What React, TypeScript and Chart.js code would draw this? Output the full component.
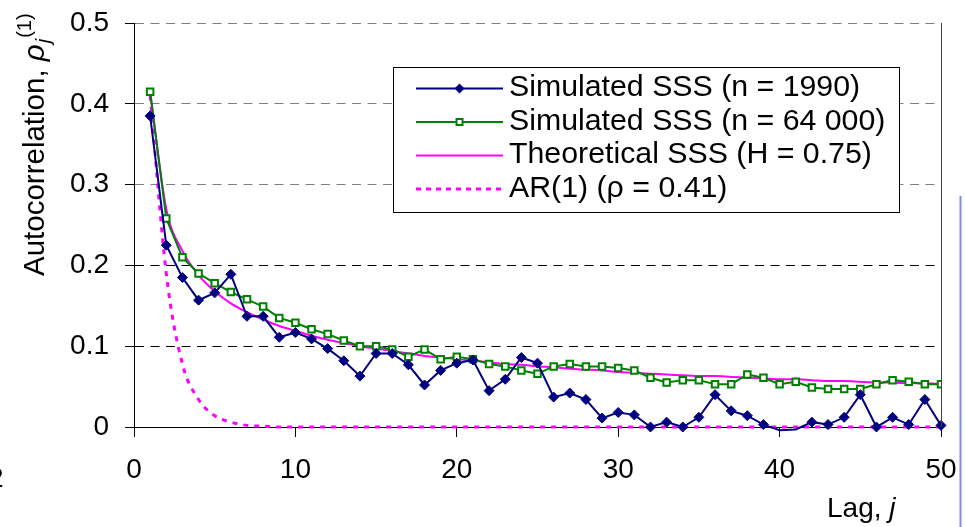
import React, { useEffect, useRef } from "react";
import { Chart, registerables } from "chart.js";

Chart.register(...registerables);

// ---------------- data ----------------
const lags = [
  1, 2, 3, 4, 5, 6, 7, 8, 9, 10, 11, 12, 13, 14, 15, 16, 17, 18, 19, 20, 21, 22, 23, 24, 25,
  26, 27, 28, 29, 30, 31, 32, 33, 34, 35, 36, 37, 38, 39, 40, 41, 42, 43, 44, 45, 46, 47, 48, 49, 50,
];

const simSmall = [
  0.385, 0.225, 0.185, 0.157, 0.166, 0.189, 0.137, 0.137, 0.111, 0.117,
  0.109, 0.097, 0.082, 0.063, 0.091, 0.091, 0.077, 0.052, 0.07, 0.079,
  0.083, 0.045, 0.059, 0.086, 0.079, 0.037, 0.042, 0.034, 0.011, 0.018,
  0.015, 0.0, 0.006, 0.0, 0.012, 0.04, 0.02, 0.014, 0.003, -0.004,
  -0.003, 0.006, 0.003, 0.012, 0.04, 0.0, 0.012, 0.003, 0.034, 0.002,
];

const simLarge = [
  0.415, 0.258, 0.21, 0.19, 0.178, 0.167, 0.158, 0.149, 0.135, 0.129,
  0.121, 0.115, 0.107, 0.1, 0.1, 0.096, 0.087, 0.096, 0.084, 0.087,
  0.084, 0.078, 0.075, 0.07, 0.066, 0.075, 0.078, 0.075, 0.075, 0.073,
  0.07, 0.061, 0.055, 0.058, 0.058, 0.053, 0.053, 0.065, 0.061, 0.053,
  0.056, 0.049, 0.047, 0.047, 0.047, 0.053, 0.058, 0.056, 0.053, 0.053,
];

const theoretical = [
  0.414, 0.27, 0.218, 0.188, 0.168, 0.153, 0.142, 0.133, 0.125, 0.119,
  0.113, 0.108, 0.104, 0.1, 0.097, 0.094, 0.091, 0.088, 0.086, 0.084,
  0.082, 0.08, 0.078, 0.077, 0.075, 0.074, 0.072, 0.071, 0.07, 0.068,
  0.067, 0.066, 0.065, 0.064, 0.063, 0.063, 0.062, 0.061, 0.06, 0.059,
  0.059, 0.058, 0.057, 0.057, 0.056, 0.055, 0.055, 0.054, 0.054, 0.053,
];

const ar1 = [
  0.41, 0.19, 0.078, 0.034, 0.014, 0.006, 0.002, 0.001, 0, 0,
  0, 0, 0, 0, 0, 0, 0, 0, 0, 0,
  0, 0, 0, 0, 0, 0, 0, 0, 0, 0,
  0, 0, 0, 0, 0, 0, 0, 0, 0, 0,
  0, 0, 0, 0, 0, 0, 0, 0, 0, 0,
];

const seriesNames = [
  "Simulated SSS (n = 1990)",
  "Simulated SSS (n = 64 000)",
  "Theoretical SSS (H = 0.75)",
  "AR(1) (ρ = 0.41)",
];

const xTickValues = [0, 10, 20, 30, 40, 50];
const yTickValues = [0, 0.1, 0.2, 0.3, 0.4, 0.5];
const yTitleMain = "Autocorrelation, ";
const yTitleSymbol = "ρ";
const yTitleSub = "j";
const yTitleSup = "(1)";
const xTitleMain = "Lag, ";
const xTitleItalic = "j";
const edgeFragment = "2";

// ---------------- styles ----------------
const FONT = "'Liberation Sans', Arial, sans-serif";
const NAVY = "#000080";
const GREEN = "#008000";
const MAGENTA = "#ff00ff";

const toPoints = (vals: number[]) => lags.map((x, i) => ({ x, y: vals[i] }));

function drawDiamond(ctx: CanvasRenderingContext2D, x: number, y: number, r: number) {
  ctx.beginPath();
  ctx.moveTo(x - r, y);
  ctx.lineTo(x, y - r);
  ctx.lineTo(x + r, y);
  ctx.lineTo(x, y + r);
  ctx.closePath();
}

const decorPlugin = {
  id: "decor",
  afterDraw(chart: any) {
    const ctx: CanvasRenderingContext2D = chart.ctx;
    const { top, right, bottom } = chart.chartArea;
    ctx.save();

    // right border of plot area
    ctx.strokeStyle = "#404040";
    ctx.lineWidth = 1;
    ctx.setLineDash([]);
    ctx.beginPath();
    const rx = Math.round(right) + 0.5;
    ctx.moveTo(rx, top);
    ctx.lineTo(rx, bottom);
    ctx.stroke();

    // legend box
    const bx = 393.5, by = 67.5, bw = 506, bh = 145;
    ctx.fillStyle = "#fff";
    ctx.fillRect(bx, by, bw, bh);
    ctx.strokeStyle = "#000";
    ctx.lineWidth = 1;
    ctx.strokeRect(bx, by, bw, bh);

    const lx1 = 416, lx2 = 503, lxm = 459.5, tx = 509;
    ctx.font = `30.3px ${FONT}`;
    ctx.textBaseline = "alphabetic";
    ctx.textAlign = "left";
    for (let i = 0; i < seriesNames.length; i++) {
      const base = 96 + i * 33.5;
      const ly = base - 7.5;
      ctx.save();
      if (i === 0) {
        ctx.strokeStyle = NAVY; ctx.lineWidth = 2;
      } else if (i === 1) {
        ctx.strokeStyle = GREEN; ctx.lineWidth = 2;
      } else if (i === 2) {
        ctx.strokeStyle = MAGENTA; ctx.lineWidth = 2;
      } else {
        ctx.strokeStyle = MAGENTA; ctx.lineWidth = 3; ctx.setLineDash([5, 5]);
      }
      ctx.beginPath();
      ctx.moveTo(lx1, ly);
      ctx.lineTo(lx2, ly);
      ctx.stroke();
      ctx.setLineDash([]);
      if (i === 0) {
        ctx.fillStyle = NAVY;
        drawDiamond(ctx, lxm, ly, 5);
        ctx.fill();
      } else if (i === 1) {
        ctx.fillStyle = "#fff";
        ctx.strokeStyle = GREEN;
        ctx.lineWidth = 2;
        ctx.fillRect(lxm - 3, ly - 3, 6, 6);
        ctx.strokeRect(lxm - 3, ly - 3, 6, 6);
      }
      ctx.restore();
      ctx.fillStyle = "#000";
      ctx.fillText(seriesNames[i], tx, base);
    }

    // y axis title (rotated, with italic symbol, subscript and superscript)
    ctx.save();
    ctx.translate(44, 276);
    ctx.rotate(-Math.PI / 2);
    ctx.fillStyle = "#000";
    ctx.textBaseline = "alphabetic";
    ctx.textAlign = "left";
    let px = 0;
    ctx.font = `29.5px ${FONT}`;
    ctx.fillText(yTitleMain, px, 0);
    px += ctx.measureText(yTitleMain).width;
    ctx.font = `italic 29.5px ${FONT}`;
    ctx.fillText(yTitleSymbol, px, 0);
    px += ctx.measureText(yTitleSymbol).width;
    ctx.font = `italic 20px ${FONT}`;
    ctx.fillText(yTitleSub, px + 1, 6);
    px += ctx.measureText(yTitleSub).width + 2;
    ctx.font = `20px ${FONT}`;
    ctx.fillText(yTitleSup, px, -13);
    ctx.restore();

    // x axis title
    ctx.fillStyle = "#000";
    ctx.textBaseline = "alphabetic";
    ctx.textAlign = "left";
    ctx.font = `28px ${FONT}`;
    ctx.fillText(xTitleMain, 827, 517);
    const w = ctx.measureText(xTitleMain).width;
    ctx.font = `italic 28px ${FONT}`;
    ctx.fillText(xTitleItalic, 827 + w, 517);

    // cut-off glyph at the left edge of the picture
    ctx.font = `28px ${FONT}`;
    ctx.fillText(edgeFragment, -12, 487);

    // thin blue vertical line at right edge of picture
    ctx.strokeStyle = "#7b8cf2";
    ctx.lineWidth = 2;
    ctx.beginPath();
    ctx.moveTo(960.5, 196);
    ctx.lineTo(960.5, 527);
    ctx.stroke();

    ctx.restore();
  },
};

export default function App() {
  const canvasRef = useRef<HTMLCanvasElement | null>(null);

  useEffect(() => {
    if (!canvasRef.current) return;
    const chart = new Chart(canvasRef.current, {
      type: "line",
      data: {
        datasets: [
          {
            label: seriesNames[0],
            data: toPoints(simSmall),
            borderColor: NAVY,
            borderWidth: 2,
            pointStyle: "rectRot",
            pointRadius: (c: any) => (c.raw && c.raw.y < 0 ? 0 : 5),
            pointBackgroundColor: NAVY,
            pointBorderColor: NAVY,
            pointBorderWidth: 1,
            clip: 12,
          },
          {
            label: seriesNames[1],
            data: toPoints(simLarge),
            borderColor: GREEN,
            borderWidth: 2,
            pointStyle: "rect",
            pointRadius: 4.6,
            pointBackgroundColor: "#fff",
            pointBorderColor: GREEN,
            pointBorderWidth: 2,
          },
          {
            label: seriesNames[2],
            data: toPoints(theoretical),
            borderColor: MAGENTA,
            borderWidth: 2,
            pointRadius: 0,
            cubicInterpolationMode: "monotone",
          },
          {
            label: seriesNames[3],
            data: toPoints(ar1),
            borderColor: MAGENTA,
            borderWidth: 3,
            borderDash: [5, 6],
            pointRadius: 0,
            cubicInterpolationMode: "monotone",
            clip: 12,
          },
        ],
      },
      options: {
        animation: false,
        responsive: false,
        events: [],
        layout: { autoPadding: false, padding: { left: 0, top: 23, right: 24, bottom: 0 } },
        plugins: {
          legend: { display: false },
          tooltip: { enabled: false },
          title: { display: false },
        },
        scales: {
          x: {
            type: "linear",
            min: 0,
            max: 50,
            afterBuildTicks: (scale: any) => {
              scale.ticks = xTickValues.map((v) => ({ value: v }));
            },
            afterFit: (scale: any) => {
              scale.height = 100;
              scale.paddingLeft = 0;
              scale.paddingRight = 0;
            },
            ticks: {
              color: "#000",
              font: { family: FONT, size: 28 },
              padding: 16,
              maxRotation: 0,
              autoSkip: false,
            },
            grid: {
              drawOnChartArea: false,
              drawTicks: true,
              tickLength: 10,
              color: "#000",
              tickColor: "#000",
            },
            border: { display: true, color: "#000", width: 1 },
          },
          y: {
            type: "linear",
            min: 0,
            max: 0.5,
            afterBuildTicks: (scale: any) => {
              scale.ticks = yTickValues.map((v) => ({ value: v }));
            },
            afterFit: (scale: any) => {
              scale.width = 134;
              scale.paddingTop = 0;
              scale.paddingBottom = 0;
            },
            ticks: {
              color: "#000",
              font: { family: FONT, size: 28 },
              padding: 16,
              callback: (v: any) => String(Math.round(Number(v) * 10) / 10),
            },
            grid: {
              drawTicks: true,
              tickLength: 9,
              color: (c: any) => {
                const v = c.tick ? c.tick.value : 0;
                if (v < 0.05) return "rgba(0,0,0,0)";
                return v > 0.25 ? "#7f7f7f" : "#000";
              },
              tickColor: "#000",
            },
            border: { display: true, color: "#000", width: 1, dash: [9, 6.5] },
          },
        },
      },
      plugins: [decorPlugin],
    } as any);
    return () => chart.destroy();
  }, []);

  return (
    <div style={{ position: "absolute", left: 0, top: 0, width: 965, height: 527, background: "#fff" }}>
      <canvas ref={canvasRef} width={965} height={527} style={{ display: "block" }} />
    </div>
  );
}
